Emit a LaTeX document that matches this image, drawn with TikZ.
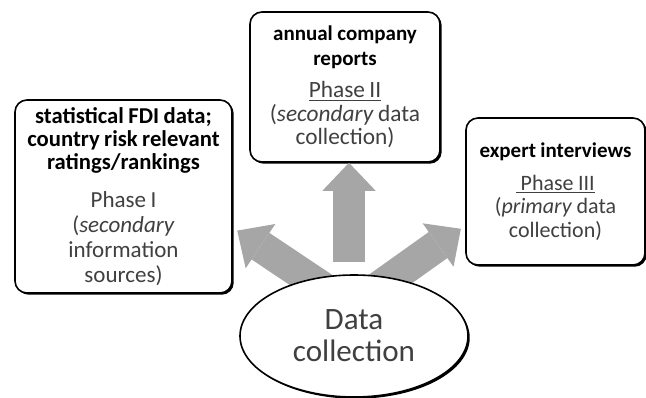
\documentclass[tikz,border=0pt]{standalone}
\usepackage{fontspec}
\setmainfont{Carlito}
\usetikzlibrary{shapes.geometric,arrows.meta,shadows,calc}
\definecolor{arrowgray}{RGB}{166,166,166}
\definecolor{textgray}{RGB}{64,64,64}
\newcommand{\headtext}[2]{\fontsize{#1}{#2}\selectfont\bfseries\color{black}}
\newcommand{\phasetext}[2]{\fontsize{#1}{#2}\selectfont\mdseries\color{textgray}}

\begin{document}
\begin{tikzpicture}[x=0.75pt, y=-0.75pt,
	phase/.style = {draw, fill=white, line width=1.2pt, rounded corners=9pt, align=center, inner sep=2pt,
		drop shadow={shadow xshift=1.3pt, shadow yshift=-1.3pt, opacity=1, fill=black}},
	collect/.style = {ellipse, draw, fill=white, line width=1.2pt, inner sep=0pt, align=center,
		minimum width=171pt, minimum height=91.5pt, text=textgray, font=\fontsize{23.3}{24}\selectfont,
		drop shadow={shadow xshift=1.3pt, shadow yshift=-1.3pt, opacity=1, fill=black}},
	push/.style = {draw=arrowgray, line width=24pt, shorten >=4pt,
		-{Triangle[length=21pt, width=40pt, line width=0pt]}}]
	\useasboundingbox (0,0) rectangle (646,398);
	% the three phases
	\node[phase, minimum width=162.75pt, minimum height=144.75pt, text width=158pt] (p1) at (123.5,196.5)
		{\headtext{17}{17.5}statistical FDI data;\\ country risk relevant\\ ratings/rankings\par\vspace{9.75pt}%
		 \phasetext{17.25}{18.75}Phase I\\ (\textit{secondary}\\ information\\ sources)\par};
	\node[phase, minimum width=142.5pt, minimum height=112.5pt, text width=136pt] (p2) at (345,87)
		{\headtext{15.75}{18.3}annual company\\ reports\par\vspace{7pt}%
		 \phasetext{17.5}{17.5}\underline{Phase II}\\ (\textit{secondary} data\\ collection)\par};
	\node[phase, minimum width=134.25pt, minimum height=110.25pt, text width=128pt] (p3) at (555.5,191.5)
		{\headtext{15.75}{17.5}expert interviews\par\vspace{7pt}%
		 \phasetext{16.5}{17.6}\underline{\ Phase III}\\ (\textit{primary} data\\ collection)\par};
	% arrows
	\coordinate (lt) at (332,294);
	\coordinate (ut) at (349,262);
	\coordinate (rt) at (368.5,294.6);
	\draw[push] (lt) -- ($(p1.south east)!0.34!(p1.north east)$);
	\draw[push, shorten >=0pt] (ut) -- (ut |- p2.south);
	\draw[push] (rt) -- ($(p3.south west)!0.27!(p3.north west)$);
	\node[collect] (dc) at (354,336) {Data\\ collection};
\end{tikzpicture}
\end{document}
